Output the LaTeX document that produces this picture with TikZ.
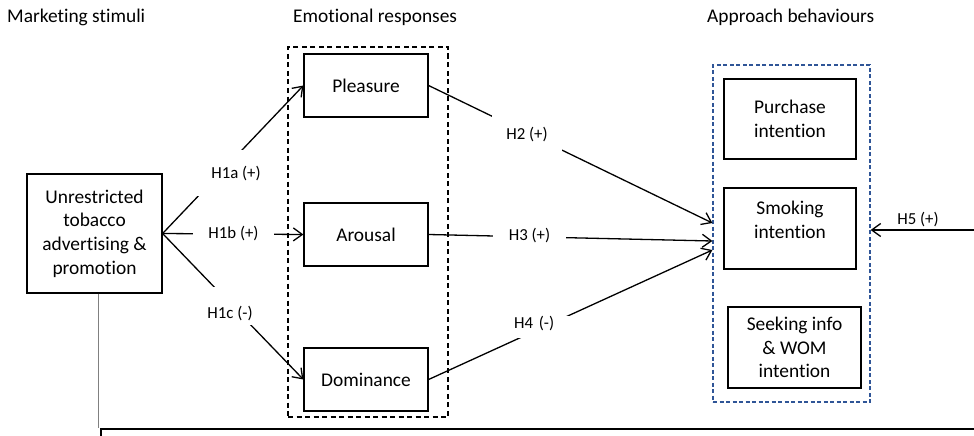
\documentclass[tikz,border=0pt]{standalone}
\usepackage{fontspec}
\setmainfont[Ligatures=NoCommon]{Carlito}
\usetikzlibrary{arrows.meta}
\definecolor{dashblue}{RGB}{47,85,151}
\tikzset{
  box/.style={draw,line width=1.2pt,inner sep=0pt,align=center,font=\fontsize{19.4}{23.7}\selectfont},
  head/.style={anchor=base west,inner sep=0pt,font=\fontsize{19.4}{23.7}\selectfont},
  hyp/.style={fill=white,inner sep=0pt,font=\fontsize{16.8}{19}\selectfont},
  link/.style={line width=1.3pt,-{Straight Barb[length=9pt,width=13pt,line width=1.3pt]}},
}
\begin{document}
\begin{tikzpicture}[x=1pt,y=-1pt]
        \useasboundingbox(0,0)rectangle(974,436);
        \clip(0,0)rectangle(974,436);
        % headings
        \node[head](mhead)at(7,23){Marketing stimuli};
        \node[head](ehead)at(293,23){Emotional responses};
        \node[head](ahead)at(707,23){Approach behaviours};
        % groups
        \node[draw,line width=1.1pt,dash pattern=on 5pt off 3.5pt,minimum width=160pt,minimum height=370pt](emo)at(368,232){};
        \node[draw=dashblue,line width=1.2pt,dash pattern=on 4pt off 2.5pt,minimum width=157pt,minimum height=337pt](appr)at(791.5,233.5){};
        % boxes
        \node[box,minimum width=135pt,minimum height=119pt](stim)at(94.5,233.5){Unrestricted\\tobacco\\advertising \&\\promotion};
        \foreach \nm/\txt/\yy in {plea/Pleasure/85.5,arou/Arousal/234.5,dom/Dominance/379.5}
        \node[box,minimum width=124pt,minimum height=63pt](\nm)at(366,\yy){\txt};
        \node[box,minimum width=132pt,minimum height=80pt](purch)at(790,119){Purchase\\intention};
        \node[box,minimum width=132pt,minimum height=81pt](smoke)at(790,228.5){};
        \node[box,draw=none](smoketxt)at(790,219.5){Smoking\\intention};
        \node[box,minimum width=133pt,minimum height=81pt](seek)at(794.5,347.5){Seeking info\\\& WOM\\intention};
        \node[draw,line width=2pt,minimum width=900pt,minimum height=60pt,anchor=north west](ctrl)at(100,428){};
        \coordinate(drop)at(98,428);
        \draw[gray,line width=1pt](stim.south -| drop)--(drop);
        % hypotheses
        \draw[link](stim.east)--(plea.west);
        \draw[link](stim.east)--(arou.west);
        \draw[link](stim.east)--(dom.west);
        \draw[link](plea.east)--([yshift=10.5pt]appr.west);
        \draw[link](arou.east)--([yshift=-7.5pt]appr.west);
        \draw[link](dom.east)--([yshift=-16.5pt]appr.west);
        \coordinate(h5src)at(980,230);
        \draw[link](h5src)--(appr.east |- h5src);
        \node[hyp,anchor=base,text height=28pt,text depth=18pt,minimum width=80pt](h1a)at(236,178){H1a (+)};
        \node[hyp,anchor=base,text height=12pt,text depth=6pt,minimum width=81pt](h1b)at(233.5,238){H1b (+)};
        \node[hyp,anchor=base,text height=31pt,text depth=7pt,minimum width=50pt](h1c)at(230,318){H1c (-)};
        \node[hyp,anchor=base,text height=24pt,text depth=12pt,minimum width=70pt](h2)at(527,139){H2 (+)};
        \node[hyp,anchor=base,text height=14pt,text depth=3pt,minimum width=73pt](h3)at(529.5,240){H3 (+)};
        \node[hyp,anchor=base west,text height=12pt,text depth=10pt,text width=56pt,align=left](h4)at(514,328){H4 (-)};
        \node[hyp,anchor=base,fill=none](h5)at(918,224){H5 (+)};
    \end{tikzpicture}
\end{document}
